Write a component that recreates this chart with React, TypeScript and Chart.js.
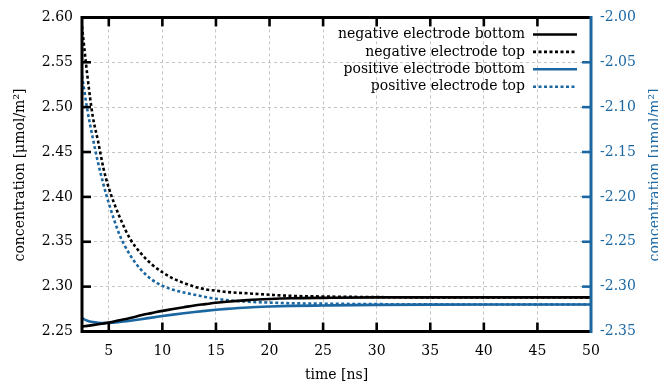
import React, { useEffect, useRef } from 'react';
import { Chart, registerables } from 'chart.js';

Chart.register(...registerables);

// time axis values [ns]
const timeNs = [2.5, 3, 3.5, 4, 4.5, 5, 6, 7, 8, 9, 10, 11, 12, 13, 14, 15, 16, 18, 20, 22, 25, 30, 35, 40, 45, 50];

// left axis (negative electrode) [µmol/m²]
const negBottom = [2.2555, 2.2563, 2.2571, 2.258, 2.259, 2.26, 2.2625, 2.265, 2.268, 2.2705, 2.273, 2.275, 2.277, 2.279, 2.2805, 2.282, 2.2832, 2.285, 2.2862, 2.287, 2.2875, 2.288, 2.288, 2.288, 2.288, 2.288];
const negTop = [2.59, 2.535, 2.49, 2.462, 2.432, 2.41, 2.378, 2.353, 2.337, 2.325, 2.316, 2.309, 2.304, 2.3, 2.297, 2.2955, 2.294, 2.2925, 2.291, 2.2897, 2.289, 2.2883, 2.288, 2.288, 2.288, 2.288];

// right axis (positive electrode) [µmol/m²]
const posBottom = [-2.3352, -2.338, -2.3395, -2.3403, -2.3407, -2.3406, -2.3395, -2.338, -2.3363, -2.3345, -2.3328, -2.3312, -2.3297, -2.3283, -2.327, -2.3258, -2.3248, -2.3232, -2.3222, -2.3215, -2.321, -2.3203, -2.32, -2.3199, -2.3199, -2.3199];
const posTop = [-2.065, -2.103, -2.134, -2.162, -2.186, -2.207, -2.242, -2.265, -2.281, -2.292, -2.299, -2.3035, -2.3065, -2.309, -2.3115, -2.3135, -2.315, -2.3168, -2.3178, -2.3185, -2.319, -2.3195, -2.3198, -2.3199, -2.3199, -2.3199];

const seriesLabels = ['negative electrode bottom', 'negative electrode top', 'positive electrode bottom', 'positive electrode top'];

const xTicks = [5, 10, 15, 20, 25, 30, 35, 40, 45, 50];
const yTicks = [2.25, 2.3, 2.35, 2.4, 2.45, 2.5, 2.55, 2.6];
const y1Ticks = [-2.35, -2.3, -2.25, -2.2, -2.15, -2.1, -2.05, -2.0];

const xTitle = 'time [ns]';
const yTitle = 'concentration [μmol/m²]';
const y1Title = 'concentration [μmol/m²]';

const BLUE = '#1b67a2';
const FONT = '"DejaVu Serif", serif';
const DASH = [3, 2.5];

const W = 658;
const H = 383;

const pts = (ys: number[]) => timeNs.map((t, i) => ({ x: t, y: ys[i] }));

const framePlugin = {
  id: 'framePlugin',
  afterDatasetsDraw(chart: any) {
    const { ctx, chartArea, scales } = chart;
    const { left, right, top, bottom } = chartArea;
    const line = (x1: number, y1: number, x2: number, y2: number) => {
      ctx.beginPath();
      ctx.moveTo(x1, y1);
      ctx.lineTo(x2, y2);
      ctx.stroke();
    };
    ctx.save();
    ctx.setLineDash([]);
    ctx.lineCap = 'butt';
    // inward ticks
    ctx.strokeStyle = '#000';
    ctx.lineWidth = 2.6;
    for (const t of xTicks) {
      if (t <= scales.x.min || t >= scales.x.max) continue;
      const px = scales.x.getPixelForValue(t);
      line(px, bottom, px, bottom - 9);
      line(px, top, px, top + 9);
    }
    for (const t of yTicks) {
      if (t <= scales.y.min + 1e-9 || t >= scales.y.max - 1e-9) continue;
      const py = scales.y.getPixelForValue(t);
      line(left, py, left + 9, py);
    }
    ctx.strokeStyle = BLUE;
    for (const t of y1Ticks) {
      if (t <= scales.y1.min + 1e-9 || t >= scales.y1.max - 1e-9) continue;
      const py = scales.y1.getPixelForValue(t);
      line(right, py, right - 9, py);
    }
    // frame
    ctx.strokeStyle = '#000';
    ctx.lineWidth = 3;
    line(left, top, right, top);
    line(left, bottom, right, bottom);
    line(left, top - 1.5, left, bottom + 1.5);
    ctx.strokeStyle = BLUE;
    line(right, top - 1.5, right, bottom + 1.5);

    // legend
    ctx.font = `14px ${FONT}`;
    ctx.textAlign = 'right';
    ctx.textBaseline = 'middle';
    ctx.fillStyle = '#000';
    chart.data.datasets.forEach((ds: any, i: number) => {
      const yy = 34.5 + i * 17.4;
      ctx.fillStyle = '#000';
      ctx.fillText(ds.label, 525, yy);
      ctx.strokeStyle = ds.borderColor;
      ctx.lineWidth = 2.6;
      ctx.setLineDash(ds.borderDash || []);
      line(533, yy, 577, yy);
    });
    ctx.setLineDash([]);

    // axis titles
    ctx.textAlign = 'center';
    ctx.textBaseline = 'alphabetic';
    ctx.fillStyle = '#000';
    ctx.fillText(xTitle, (left + right) / 2, 379);
    ctx.save();
    ctx.translate(24, 175);
    ctx.rotate(-Math.PI / 2);
    ctx.fillText(yTitle, 0, 0);
    ctx.restore();
    ctx.save();
    ctx.fillStyle = BLUE;
    ctx.translate(659, 175);
    ctx.rotate(-Math.PI / 2);
    ctx.fillText(y1Title, 0, 0);
    ctx.restore();
    ctx.restore();
  },
};

export default function App() {
  const ref = useRef<HTMLCanvasElement>(null);
  useEffect(() => {
    document.body.style.margin = '0';
    const canvas = ref.current!;
    const chart = new Chart(canvas, {
      type: 'line',
      data: {
        datasets: [
          { label: seriesLabels[0], data: pts(negBottom), borderColor: '#000', borderWidth: 2.6, yAxisID: 'y' },
          { label: seriesLabels[1], data: pts(negTop), borderColor: '#000', borderWidth: 2.6, borderDash: DASH, yAxisID: 'y' },
          { label: seriesLabels[2], data: pts(posBottom), borderColor: BLUE, borderWidth: 2.6, yAxisID: 'y1' },
          { label: seriesLabels[3], data: pts(posTop), borderColor: BLUE, borderWidth: 2.6, borderDash: DASH, yAxisID: 'y1' },
        ] as any,
      },
      options: {
        responsive: false,
        animation: false,
        devicePixelRatio: 1,
        parsing: true,
        elements: {
          point: { radius: 0 },
          line: { cubicInterpolationMode: 'monotone', fill: false },
        },
        layout: { padding: { top: 16, left: 0, right: 0, bottom: 0 } },
        plugins: {
          legend: { display: false },
          tooltip: { enabled: false },
        },
        scales: {
          x: {
            type: 'linear',
            min: 2.5,
            max: 50,
            afterBuildTicks: (s: any) => { s.ticks = xTicks.map((v) => ({ value: v })); },
            afterFit: (s: any) => { s.height = H - 331.5 - 0; },
            ticks: { font: { family: FONT, size: 14 }, color: '#000', padding: 11, maxRotation: 0, autoSkip: false },
            grid: { color: '#c4c4c4', lineWidth: 1, drawTicks: false },
            border: { display: false, dash: [3, 3] },
          },
          y: {
            type: 'linear',
            position: 'left',
            min: 2.25,
            max: 2.6,
            afterBuildTicks: (s: any) => { s.ticks = yTicks.map((v) => ({ value: v })); },
            afterFit: (s: any) => { s.width = 82; },
            ticks: { font: { family: FONT, size: 14 }, color: '#000', padding: 9, callback: (v: any) => Number(v).toFixed(2) },
            grid: { color: '#c4c4c4', lineWidth: 1, drawTicks: false },
            border: { display: false, dash: [3, 3] },
          },
          y1: {
            type: 'linear',
            position: 'right',
            min: -2.35,
            max: -2.0,
            afterBuildTicks: (s: any) => { s.ticks = y1Ticks.map((v) => ({ value: v })); },
            afterFit: (s: any) => { s.width = W - 591; },
            ticks: { font: { family: FONT, size: 14 }, color: BLUE, padding: 9, callback: (v: any) => Number(v).toFixed(2) },
            grid: { display: false, drawTicks: false },
            border: { display: false },
          },
        },
      } as any,
      plugins: [framePlugin],
    });
    return () => chart.destroy();
  }, []);
  return (
    <div style={{ width: W, height: H, overflow: 'hidden' }}>
      <canvas ref={ref} width={W} height={H} style={{ display: 'block', width: W, height: H }} />
    </div>
  );
}
